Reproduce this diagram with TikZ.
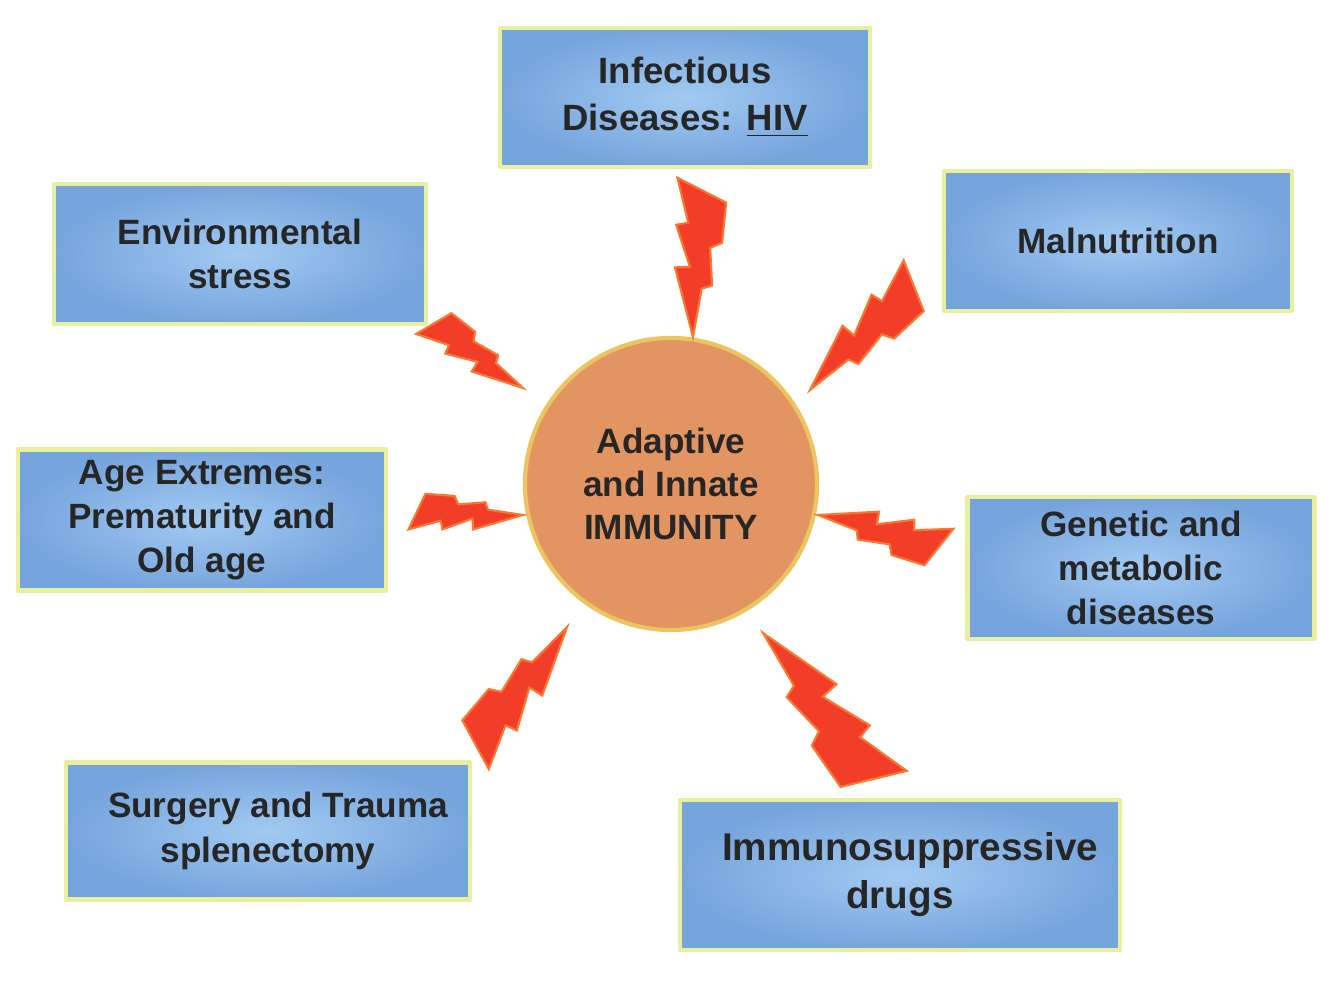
\documentclass[tikz,border=0pt]{standalone}
\usepackage{fontspec}
\setmainfont{Liberation Sans}
\usetikzlibrary{positioning}
\definecolor{boxouter}{RGB}{118,164,220}
\definecolor{boxinner}{RGB}{162,202,242}
\definecolor{boxrim}{RGB}{232,240,160}
\definecolor{coreorange}{RGB}{226,148,98}
\definecolor{corerim}{RGB}{236,196,96}
\definecolor{boltred}{RGB}{242,62,40}
\definecolor{boltrim}{RGB}{248,120,50}
\tikzset{
  every node/.style={font=\bfseries\fontsize{10}{12.6}\selectfont,
    text=black!85},
  cause/.style={rectangle, draw=boxrim, line width=1.2pt, inner sep=0pt,
    shading=radial, inner color=boxinner, outer color=boxouter,
    align=center},
  core/.style={circle, draw=corerim, line width=1.2pt, fill=coreorange,
    inner sep=0pt, minimum size=2.92cm, align=center,
    font=\bfseries\fontsize{10}{12.2}\selectfont},
  bolt/.pic={
    \filldraw[fill=boltred, draw=boltrim, line width=0.6pt, line join=miter]
      (0,0) -- (0.33,-0.05) -- (0.354,-0.12) -- (0.61,-0.10)
      -- (0.646,-0.18) -- (0.92,-0.20) -- (1.08,0.136) -- (0.776,0.054)
      -- (0.76,0.136) -- (0.476,0.034) -- (0.47,0.136) -- cycle;
  }
}

\begin{document}
\begin{tikzpicture}[line cap=round,line join=round]
  \useasboundingbox[fill=white] (0,0) rectangle (13.34,9.82);

  % centre
  \node[core] (immunity) at (6.71,4.98) {Adaptive\\and Innate\\IMMUNITY};

  % causes
  \node[cause, minimum width=3.70cm, minimum height=1.39cm,
    font=\bfseries\fontsize{10.4}{13.4}\selectfont] (infect) at (6.85,8.845)
    {Infectious\\Diseases: \underline{HIV}};
  \node[cause, minimum width=3.72cm, minimum height=1.40cm] (envir)
    at (2.40,7.28) {Environmental\\stress};
  \node[cause, minimum width=3.48cm, minimum height=1.40cm] (malnut)
    at (11.18,7.41) {Malnutrition};
  \node[cause, minimum width=3.68cm, minimum height=1.41cm] (age)
    at (2.02,4.62) {Age Extremes:\\Prematurity and\\Old age};
  \node[cause, minimum width=3.47cm, minimum height=1.42cm] (genetic)
    at (11.41,4.14) {Genetic and\\metabolic\\diseases};
  \node[cause, minimum width=4.04cm, minimum height=1.37cm] (surgery)
    at (2.68,1.51) {\hspace*{0.2cm}Surgery and Trauma\\splenectomy};
  \node[cause, minimum width=4.40cm, minimum height=1.50cm,
    font=\bfseries\fontsize{11}{13.7}\selectfont] (immuno) at (9.00,1.07)
    {\hspace*{0.2cm}Immunosuppressive\\drugs};

  % bolts, tip at the centre
  \pic[rotate=88.4, scale=1.47] at (6.93,6.45) {bolt};
  \pic[rotate=146, scale=1.10] at (5.23,5.94) {bolt};
  \pic[rotate=47, scale=1.47] at (8.10,5.92) {bolt};
  \pic[rotate=180, scale=1.06] at (5.23,4.67) {bolt};
  \pic[rotate=-13, scale=1.25] at (8.18,4.67) {bolt};
  \pic[rotate=234, scale=1.49] at (5.67,3.55) {bolt};
  \pic[rotate=-51, scale=1.83] at (7.63,3.49) {bolt};
\end{tikzpicture}
\end{document}
